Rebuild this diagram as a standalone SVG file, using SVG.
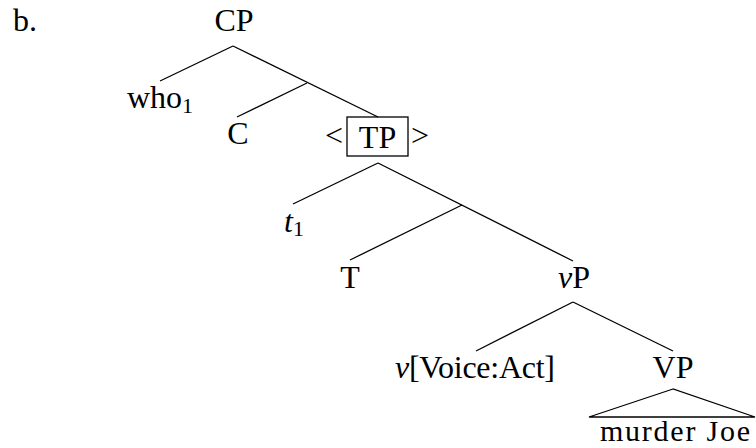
<svg xmlns="http://www.w3.org/2000/svg" width="756" height="448" viewBox="0 0 756 448">
<style>
text{font-family:"Liberation Serif","DejaVu Serif",serif;font-size:32px;fill:#000}
.c{text-anchor:middle}
.i{font-style:italic}
.s{font-size:22px}
.e{stroke:#000;stroke-width:1.3;fill:none}
</style>
<rect width="756" height="448" fill="#fff"/>
<g id="label-b"><text x="13" y="31">b.</text></g>
<g id="connectors" class="e">
<line x1="233" y1="46" x2="160" y2="81"/>
<line x1="233" y1="46" x2="378" y2="117"/>
<line x1="307" y1="83" x2="237" y2="117"/>
<line x1="378" y1="163" x2="293" y2="204"/>
<line x1="378" y1="163" x2="573" y2="261"/>
<line x1="462" y1="205" x2="350" y2="260"/>
<line x1="573" y1="302" x2="476" y2="351"/>
<line x1="573" y1="302" x2="673" y2="351"/>
<polygon points="673,389 589,417 755,417"/>
</g>
<g id="n-CP"><text class="c" x="234" y="31">CP</text></g>
<g id="n-who"><text x="127" y="108">who<tspan class="s" dy="5">1</tspan></text></g>
<g id="n-C"><text class="c" x="238" y="144">C</text></g>
<g id="n-TP"><text x="325" y="146">&lt;</text><rect x="347" y="117" width="61" height="39" class="e"/><text class="c" x="377.5" y="148">TP</text><text x="411" y="146">&gt;</text></g>
<g id="n-t1"><text x="284" y="232"><tspan class="i">t</tspan><tspan class="s" dy="4">1</tspan></text></g>
<g id="n-T"><text class="c" x="350" y="288">T</text></g>
<g id="n-vP"><text class="c" x="574" y="288"><tspan class="i">v</tspan>P</text></g>
<g id="n-v"><text x="395" y="378" textLength="160"><tspan class="i">v</tspan>[Voice:Act]</text></g>
<g id="n-VP"><text class="c" x="673" y="378">VP</text></g>
<g id="n-murder"><text x="600" y="441" font-size="30" style="font-size:30px" textLength="150">murder Joe</text></g>
</svg>
